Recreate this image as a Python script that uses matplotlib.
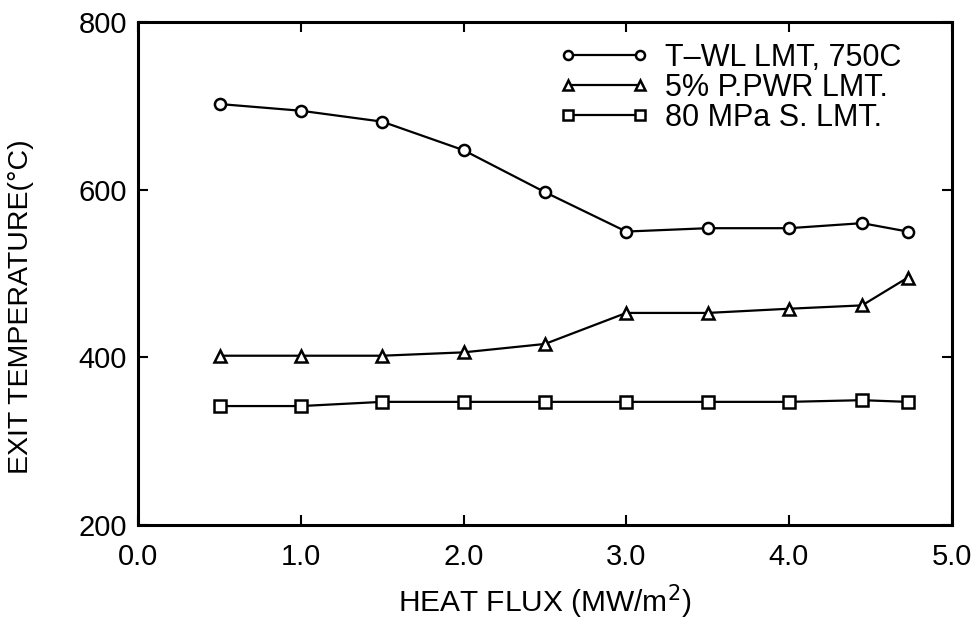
import matplotlib
matplotlib.use("Agg")
import matplotlib.pyplot as plt

plt.rcParams["font.family"] = ["Liberation Sans", "DejaVu Sans"]

# heat flux (MW/m^2) and exit temperature (C) for the three limits
heat_flux = [0.5, 1.0, 1.5, 2.0, 2.5, 3.0, 3.5, 4.0, 4.45, 4.73]
t_wall_limit = [702, 694, 681, 647, 597, 550, 554, 554, 560, 550]
pump_power_limit = [402, 402, 402, 406, 416, 453, 453, 458, 462, 495]
stress_limit = [342, 342, 347, 347, 347, 347, 347, 347, 349, 347]

labels = ["T\u2013WL LMT, 750C", "5% P.PWR LMT.", "80 MPa S. LMT."]
x_ticks = [0.0, 1.0, 2.0, 3.0, 4.0, 5.0]
y_ticks = [200, 400, 600, 800]

fig = plt.figure(figsize=(9.8, 6.23), dpi=100)
ax = fig.add_axes([0.141, 0.157, 0.830, 0.808])

line_kw = dict(color="black", linewidth=1.6, markersize=8,
               markerfacecolor="white", markeredgewidth=1.8)
ax.plot(heat_flux, t_wall_limit, marker="o", label=labels[0], **line_kw)
ax.plot(heat_flux, pump_power_limit, marker="^", label=labels[1], **line_kw)
ax.plot(heat_flux, stress_limit, marker="s", label=labels[2], **line_kw)

ax.set_xlim(0, 5)
ax.set_ylim(200, 800)
ax.set_xticks(x_ticks)
ax.set_xticklabels([f"{v:.1f}" for v in x_ticks])
ax.set_yticks(y_ticks)
ax.tick_params(direction="in", length=7, width=1.5, top=True, right=True,
               labelsize=21)
ax.tick_params(axis="x", pad=13)
ax.tick_params(axis="y", pad=8)
for spine in ax.spines.values():
    spine.set_linewidth(2.2)

ax.set_xlabel("HEAT FLUX (MW/m$^2$)", fontsize=21.5, labelpad=8)
ax.set_ylabel("EXIT TEMPERATURE(\u00b0C)", fontsize=20.5)
ax.yaxis.set_label_coords(-0.128, 0.435)

leg = ax.legend(loc="upper left", frameon=False, numpoints=2, fontsize=22,
                handlelength=2.95, handletextpad=0.5, labelspacing=0.0,
                borderpad=0.0, borderaxespad=0.0,
                bbox_to_anchor=(0.5176, 0.958))
for handle in leg.legend_handles:
    handle.set_markersize(6.5)

fig.savefig("out.png", dpi=100)
